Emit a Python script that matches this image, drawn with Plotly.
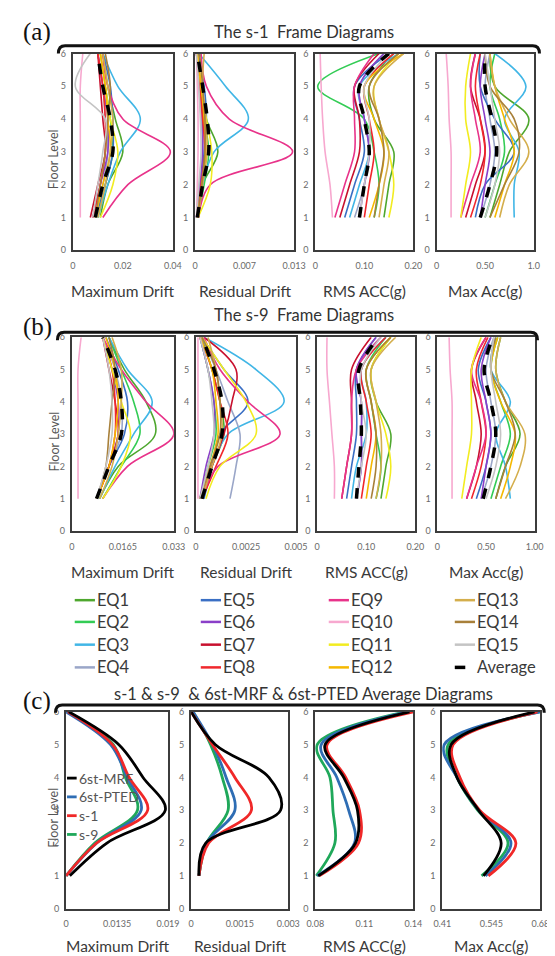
import plotly.graph_objects as go

W, H = 555, 956
FLOORS = [1, 2, 3, 4, 5, 6]

EQ_NAMES = ["EQ1", "EQ2", "EQ3", "EQ4", "EQ5", "EQ6", "EQ7", "EQ8", "EQ9", "EQ10",
            "EQ11", "EQ12", "EQ13", "EQ14", "EQ15", "Average"]
EQ_COLORS = ["#4EA72E", "#33CC55", "#41B6E6", "#9AA6C8", "#3A6FC4", "#8A3FC8", "#C8102E",
             "#F0282D", "#E8338A", "#F7A8CF", "#F2EC20", "#F5B800", "#D4AE4C", "#A8803A",
             "#C4C4C4", "#000000"]

# ---- (a) s-1 frame: one row per EQ1..EQ15, last row = Average; values at floors 1..6
S1_MAX_DRIFT = [
    [0.011, 0.014, 0.020, 0.017, 0.014, 0.012],
    [0.010, 0.013, 0.016, 0.015, 0.013, 0.011],
    [0.010, 0.014, 0.019, 0.027, 0.018, 0.012],
    [0.009, 0.012, 0.014, 0.013, 0.012, 0.010],
    [0.009, 0.013, 0.016, 0.016, 0.015, 0.012],
    [0.008, 0.011, 0.014, 0.014, 0.012, 0.010],
    [0.007, 0.010, 0.013, 0.012, 0.011, 0.010],
    [0.008, 0.011, 0.013, 0.013, 0.012, 0.010],
    [0.012, 0.022, 0.039, 0.020, 0.014, 0.012],
    [0.003, 0.003, 0.003, 0.003, 0.003, 0.004],
    [0.011, 0.016, 0.018, 0.015, 0.013, 0.011],
    [0.009, 0.012, 0.015, 0.014, 0.013, 0.011],
    [0.010, 0.013, 0.015, 0.016, 0.014, 0.012],
    [0.009, 0.011, 0.013, 0.014, 0.015, 0.013],
    [0.008, 0.010, 0.012, 0.013, 0.001, 0.007],
    [0.009, 0.012, 0.016, 0.015, 0.012, 0.010],
]
S1_RES_DRIFT = [
    [0.0005, 0.0010, 0.0030, 0.0015, 0.0008, 0.0003],
    [0.0003, 0.0012, 0.0018, 0.0012, 0.0006, 0.0002],
    [0.0004, 0.0010, 0.0025, 0.0070, 0.0040, 0.0005],
    [0.0002, 0.0006, 0.0010, 0.0008, 0.0005, 0.0002],
    [0.0003, 0.0008, 0.0012, 0.0015, 0.0012, 0.0004],
    [0.0002, 0.0007, 0.0010, 0.0010, 0.0006, 0.0002],
    [0.0003, 0.0009, 0.0014, 0.0011, 0.0007, 0.0003],
    [0.0003, 0.0008, 0.0013, 0.0010, 0.0006, 0.0002],
    [0.0005, 0.0020, 0.0128, 0.0045, 0.0015, 0.0008],
    [0.0002, 0.0003, 0.0004, 0.0004, 0.0003, 0.0002],
    [0.0004, 0.0020, 0.0022, 0.0015, 0.0008, 0.0003],
    [0.0003, 0.0009, 0.0014, 0.0012, 0.0008, 0.0003],
    [0.0004, 0.0010, 0.0016, 0.0014, 0.0010, 0.0012],
    [0.0003, 0.0009, 0.0013, 0.0013, 0.0010, 0.0006],
    [0.0002, 0.0005, 0.0008, 0.0007, 0.0005, 0.0002],
    [0.0003, 0.0010, 0.0018, 0.0016, 0.0010, 0.0003],
]
S1_RMS_ACC = [
    [0.14, 0.15, 0.16, 0.12, 0.11, 0.16],
    [0.12, 0.13, 0.12, 0.10, 0.005, 0.13],
    [0.07, 0.09, 0.11, 0.10, 0.09, 0.17],
    [0.08, 0.10, 0.11, 0.10, 0.09, 0.14],
    [0.06, 0.08, 0.10, 0.09, 0.08, 0.15],
    [0.09, 0.10, 0.11, 0.10, 0.09, 0.14],
    [0.05, 0.07, 0.09, 0.09, 0.08, 0.13],
    [0.10, 0.11, 0.12, 0.11, 0.10, 0.16],
    [0.04, 0.06, 0.08, 0.08, 0.08, 0.12],
    [0.035, 0.030, 0.020, 0.015, 0.012, 0.010],
    [0.15, 0.16, 0.15, 0.13, 0.12, 0.17],
    [0.11, 0.13, 0.14, 0.12, 0.10, 0.18],
    [0.13, 0.14, 0.15, 0.13, 0.12, 0.18],
    [0.12, 0.13, 0.14, 0.13, 0.11, 0.17],
    [0.09, 0.10, 0.11, 0.11, 0.10, 0.15],
    [0.09, 0.10, 0.11, 0.10, 0.09, 0.15],
]
S1_MAX_ACC = [
    [0.55, 0.65, 0.75, 0.95, 0.60, 0.55],
    [0.50, 0.60, 0.70, 0.65, 0.55, 0.60],
    [0.80, 0.80, 0.85, 0.70, 0.92, 0.60],
    [0.45, 0.55, 0.60, 0.55, 0.50, 0.55],
    [0.40, 0.50, 0.80, 0.60, 0.45, 0.45],
    [0.45, 0.50, 0.55, 0.50, 0.45, 0.50],
    [0.30, 0.40, 0.50, 0.45, 0.35, 0.40],
    [0.35, 0.45, 0.50, 0.45, 0.40, 0.45],
    [0.25, 0.35, 0.45, 0.40, 0.35, 0.40],
    [0.15, 0.15, 0.15, 0.13, 0.12, 0.10],
    [0.25, 0.30, 0.35, 0.30, 0.30, 0.35],
    [0.60, 0.70, 0.80, 0.70, 0.60, 0.55],
    [0.65, 0.75, 0.95, 0.75, 0.60, 0.55],
    [0.55, 0.70, 0.85, 0.80, 0.55, 0.50],
    [0.50, 0.60, 0.65, 0.60, 0.55, 0.50],
    [0.45, 0.55, 0.62, 0.57, 0.50, 0.50],
]

# ---- (b) s-9 frame
S9_MAX_DRIFT = [
    [0.009, 0.015, 0.027, 0.024, 0.017, 0.012],
    [0.010, 0.016, 0.022, 0.020, 0.016, 0.012],
    [0.009, 0.014, 0.020, 0.026, 0.018, 0.012],
    [0.008, 0.012, 0.016, 0.016, 0.014, 0.010],
    [0.008, 0.012, 0.017, 0.018, 0.015, 0.011],
    [0.008, 0.012, 0.015, 0.015, 0.013, 0.010],
    [0.008, 0.012, 0.015, 0.014, 0.012, 0.010],
    [0.008, 0.012, 0.014, 0.014, 0.013, 0.010],
    [0.010, 0.018, 0.033, 0.024, 0.016, 0.010],
    [0.002, 0.002, 0.002, 0.002, 0.002, 0.003],
    [0.010, 0.016, 0.019, 0.016, 0.013, 0.010],
    [0.008, 0.012, 0.014, 0.015, 0.014, 0.011],
    [0.009, 0.013, 0.015, 0.016, 0.016, 0.013],
    [0.008, 0.011, 0.012, 0.013, 0.014, 0.012],
    [0.008, 0.011, 0.013, 0.013, 0.012, 0.010],
    [0.008, 0.012, 0.016, 0.016, 0.014, 0.010],
]
S9_RES_DRIFT = [
    [0.0003, 0.0008, 0.0014, 0.0012, 0.0008, 0.0003],
    [0.0002, 0.0006, 0.0010, 0.0009, 0.0006, 0.0002],
    [0.0003, 0.0008, 0.0016, 0.0044, 0.0030, 0.0004],
    [0.0017, 0.0020, 0.0022, 0.0016, 0.0010, 0.0003],
    [0.0004, 0.0008, 0.0012, 0.0026, 0.0014, 0.0003],
    [0.0002, 0.0005, 0.0009, 0.0009, 0.0006, 0.0002],
    [0.0003, 0.0008, 0.0014, 0.0018, 0.0020, 0.0004],
    [0.0003, 0.0010, 0.0016, 0.0012, 0.0008, 0.0002],
    [0.0003, 0.0011, 0.0042, 0.0026, 0.0012, 0.0004],
    [0.0001, 0.0001, 0.0001, 0.0001, 0.0001, 0.0001],
    [0.0005, 0.0012, 0.0030, 0.0025, 0.0014, 0.0003],
    [0.0002, 0.0007, 0.0011, 0.0010, 0.0008, 0.0002],
    [0.0003, 0.0008, 0.0013, 0.0012, 0.0010, 0.0006],
    [0.0002, 0.0007, 0.0012, 0.0012, 0.0010, 0.0003],
    [0.0002, 0.0006, 0.0009, 0.0008, 0.0006, 0.0002],
    [0.0003, 0.0008, 0.0013, 0.0013, 0.0009, 0.0003],
]
S9_RMS_ACC = [
    [0.13, 0.14, 0.15, 0.12, 0.11, 0.15],
    [0.12, 0.13, 0.12, 0.11, 0.10, 0.14],
    [0.07, 0.08, 0.10, 0.10, 0.09, 0.14],
    [0.08, 0.09, 0.09, 0.09, 0.08, 0.13],
    [0.06, 0.07, 0.08, 0.08, 0.08, 0.12],
    [0.08, 0.09, 0.09, 0.09, 0.08, 0.12],
    [0.05, 0.06, 0.07, 0.07, 0.07, 0.11],
    [0.09, 0.10, 0.11, 0.10, 0.09, 0.14],
    [0.05, 0.06, 0.07, 0.07, 0.08, 0.13],
    [0.035, 0.035, 0.030, 0.025, 0.020, 0.020],
    [0.14, 0.15, 0.14, 0.12, 0.11, 0.15],
    [0.10, 0.11, 0.12, 0.11, 0.10, 0.15],
    [0.12, 0.13, 0.13, 0.12, 0.11, 0.16],
    [0.11, 0.12, 0.12, 0.11, 0.10, 0.15],
    [0.08, 0.09, 0.10, 0.09, 0.09, 0.13],
    [0.08, 0.085, 0.09, 0.088, 0.085, 0.125],
]
S9_MAX_ACC = [
    [0.60, 0.70, 0.85, 0.70, 0.60, 0.65],
    [0.55, 0.65, 0.75, 0.65, 0.55, 0.62],
    [0.75, 0.70, 0.60, 0.75, 0.55, 0.60],
    [0.45, 0.55, 0.60, 0.55, 0.50, 0.58],
    [0.40, 0.50, 0.55, 0.50, 0.42, 0.55],
    [0.45, 0.50, 0.55, 0.50, 0.45, 0.55],
    [0.30, 0.40, 0.45, 0.40, 0.35, 0.50],
    [0.35, 0.45, 0.50, 0.45, 0.40, 0.52],
    [0.30, 0.40, 0.50, 0.45, 0.35, 0.50],
    [0.15, 0.15, 0.15, 0.15, 0.13, 0.12],
    [0.25, 0.30, 0.35, 0.35, 0.35, 0.45],
    [0.65, 0.75, 0.80, 0.65, 0.55, 0.62],
    [0.70, 0.85, 0.90, 0.70, 0.60, 0.65],
    [0.60, 0.70, 0.80, 0.70, 0.55, 0.60],
    [0.50, 0.60, 0.65, 0.60, 0.55, 0.58],
    [0.47, 0.55, 0.60, 0.55, 0.48, 0.57],
]

# ---- (c) averages: rows = 6st-MRF, 6st-PTED, s-1, s-9
AVG_NAMES = ["6st-MRF", "6st-PTED", "s-1", "s-9"]
AVG_COLORS = ["#000000", "#2E6DB4", "#F02828", "#1FA85A"]
AVG_MAX_DRIFT = [
    [0.0084, 0.0124, 0.0187, 0.0163, 0.0137, 0.0083],
    [0.0080, 0.0113, 0.0161, 0.0146, 0.0128, 0.0080],
    [0.0080, 0.0113, 0.0168, 0.0148, 0.0130, 0.0082],
    [0.0080, 0.0111, 0.0157, 0.0144, 0.0131, 0.0082],
]
AVG_RES_DRIFT = [
    [0.00024, 0.00045, 0.00276, 0.00240, 0.00075, 0.00000],
    [0.00024, 0.00048, 0.00135, 0.00108, 0.00066, 0.00006],
    [0.00024, 0.00054, 0.00186, 0.00135, 0.00066, 0.00000],
    [0.00024, 0.00048, 0.00114, 0.00096, 0.00060, 0.00006],
]
AVG_RMS_ACC = [
    [0.0818, 0.1046, 0.1058, 0.0974, 0.0860, 0.1376],
    [0.0812, 0.1040, 0.1004, 0.0932, 0.0836, 0.1364],
    [0.0824, 0.1064, 0.1070, 0.0986, 0.0872, 0.1400],
    [0.0806, 0.0920, 0.0908, 0.0890, 0.0812, 0.1352],
]
AVG_MAX_ACC = [
    [0.5234, 0.5720, 0.5099, 0.4505, 0.4343, 0.6638],
    [0.5288, 0.5990, 0.5099, 0.4505, 0.4154, 0.6800],
    [0.5369, 0.6125, 0.5126, 0.4586, 0.4397, 0.6719],
    [0.5180, 0.5909, 0.5072, 0.4505, 0.4262, 0.6773],
]

X_TITLES = ["Maximum Drift", "Residual Drift", "RMS ACC(g)", "Max Acc(g)"]
RANGES_A = [[0, 0.04], [0, 0.013], [0, 0.20], [0, 1.0]]
TICKS_A = [["0", "0.02", "0.04"], ["0", "0.007", "0.013"], ["0", "0.10", "0.20"], ["0", "0.50", "1.0"]]
RANGES_B = [[0, 0.033], [0, 0.005], [0, 0.20], [0, 1.0]]
TICKS_B = [["0", "0.0165", "0.033"], ["0", "0.0025", "0.005"], ["0", "0.10", "0.20"], ["0", "0.50", "1.00"]]
RANGES_C = [[0.008, 0.019], [0, 0.003], [0.08, 0.14], [0.41, 0.68]]
TICKS_C = [["0", "0.0135", "0.019"], ["0", "0.0015", "0.003"], ["0.08", "0.11", "0.14"], ["0.41", "0.545", "0.68"]]
Y_TICKS = [0, 1, 2, 3, 4, 5, 6]

# ---------------- layout geometry (pixels) ----------------
def X(px):
    return px / W

def Y(py):
    return 1 - py / H

ROWS = [
    dict(top=40, bottom=239, xs=[(58, 162), (185, 288), (310, 412), (436, 537)],
         title_y=280, data=[S1_MAX_DRIFT, S1_RES_DRIFT, S1_RMS_ACC, S1_MAX_ACC],
         ranges=RANGES_A, ticks=TICKS_A, kind="eq"),
    dict(top=327, bottom=523, xs=[(57, 163), (186, 290), (312, 414), (437, 538)],
         title_y=564, data=[S9_MAX_DRIFT, S9_RES_DRIFT, S9_RMS_ACC, S9_MAX_ACC],
         ranges=RANGES_B, ticks=TICKS_B, kind="eq"),
    dict(top=706, bottom=905, xs=[(51, 157), (181, 282), (310, 412), (442, 544)],
         title_y=943, data=[AVG_MAX_DRIFT, AVG_RES_DRIFT, AVG_RMS_ACC, AVG_MAX_ACC],
         ranges=RANGES_C, ticks=TICKS_C, kind="avg"),
]

FONT = "Lato, 'Open Sans', sans-serif"
TICK_COLOR = "#6a6a6a"
BOX_COLOR = "#3c3c3c"


def note(text, px, py, size, color="#333333", family=FONT, xanchor="center", angle=0):
    return dict(text=text, x=X(px), y=Y(py), xref="paper", yref="paper", showarrow=False,
                xanchor=xanchor, yanchor="middle", textangle=angle,
                font=dict(size=size, color=color, family=family))


fig = go.Figure()
layout = dict(width=W, height=H, autosize=False, margin=dict(l=0, r=0, t=0, b=0),
              paper_bgcolor="white", plot_bgcolor="white", showlegend=False,
              font=dict(family=FONT, color="#333333"))
annotations = []
shapes = []

k = 0
for ri, row in enumerate(ROWS):
    for ci in range(4):
        k += 1
        xa = "x" if k == 1 else f"x{k}"
        ya = "y" if k == 1 else f"y{k}"
        x0, x1 = row["xs"][ci]
        lo, hi = row["ranges"][ci]
        series = row["data"][ci]
        if row["kind"] == "eq":
            for si, vals in enumerate(series):
                is_avg = si == len(series) - 1
                fig.add_trace(go.Scatter(
                    x=vals, y=FLOORS, mode="lines", xaxis=xa, yaxis=ya,
                    name=EQ_NAMES[si],
                    line=dict(color=EQ_COLORS[si], width=3.5 if is_avg else 1.6,
                              dash="dash" if is_avg else "solid", shape="spline")))
        else:
            for si in [3, 1, 2, 0]:
                fig.add_trace(go.Scatter(
                    x=series[si], y=FLOORS, mode="lines", xaxis=xa, yaxis=ya,
                    name=AVG_NAMES[si],
                    line=dict(color=AVG_COLORS[si], width=2.8, shape="spline")))
        axis_common = dict(showline=True, mirror=True, linecolor=BOX_COLOR, linewidth=2,
                           showgrid=False, zeroline=False, ticks="",
                           tickfont=dict(size=9, color=TICK_COLOR, family=FONT))
        layout["xaxis" if k == 1 else f"xaxis{k}"] = dict(
            axis_common, domain=[X(x0), X(x1)], range=[lo, hi],
            tickvals=[lo, (lo + hi) / 2, hi], ticktext=row["ticks"][ci],
            anchor=ya, ticklabelstandoff=6)
        layout["yaxis" if k == 1 else f"yaxis{k}"] = dict(
            axis_common, domain=[Y(row["bottom"]), Y(row["top"])], range=[0, 6],
            tickvals=Y_TICKS, ticktext=[str(v) for v in Y_TICKS],
            anchor=xa, ticklabelstandoff=3)
        annotations.append(note(X_TITLES[ci], (x0 + x1) / 2, row["title_y"], 15.5, "#3a3a3a"))
    annotations.append(note("Floor Level", 38, (row["top"] + row["bottom"]) / 2 + 8, 12.5,
                            "#555555", angle=-90))

# Row headers
HEADERS = [("(a)", "The s-1  Frame Diagrams", 18, 32, 43, 543, 18),
           ("(b)", "The s-9  Frame Diagrams", 305, 322, 42, 541, 317),
           ("(c)", "s-1 & s-9  & 6st-MRF & 6st-PTED Average Diagrams", 688, 699, 40, 548, 695)]
for lab, title, ty, by, bx0, bx1, ly in HEADERS:
    annotations.append(note(title, 298, ty, 16.5, "#333333"))
    annotations.append(note(lab, 4, ly, 25, "#111111", "Liberation Serif, serif", xanchor="left"))
    d = 8
    path = (f"M {X(bx0)},{Y(by + d)} Q {X(bx0)},{Y(by)} {X(bx0 + 7)},{Y(by)} "
            f"L {X(bx1 - 7)},{Y(by)} Q {X(bx1)},{Y(by)} {X(bx1)},{Y(by + d)}")
    shapes.append(dict(type="path", path=path, xref="paper", yref="paper",
                       line=dict(color="#111111", width=3)))

# EQ legend (4 columns x 4 rows)
LEG_X = [60, 191, 324, 455]
LEG_Y = [593, 615, 638, 661]
for c in range(4):
    for r in range(4):
        idx = c * 4 + r
        lx, ly = LEG_X[c], LEG_Y[r]
        is_avg = idx == 15
        shapes.append(dict(type="line", xref="paper", yref="paper",
                           x0=X(lx), x1=X(lx + 21), y0=Y(ly), y1=Y(ly),
                           line=dict(color=EQ_COLORS[idx], width=3.5 if is_avg else 2.5,
                                     dash="dash" if is_avg else "solid")))
        annotations.append(note(EQ_NAMES[idx], lx + 21, ly, 16.5, "#3a3a3a", xanchor="left"))

# Average-diagram legend inside first (c) panel
C_LEG_Y = [773, 792, 811, 830]
for i, name in enumerate(AVG_NAMES):
    shapes.append(dict(type="line", xref="paper", yref="paper",
                       x0=X(52), x1=X(62), y0=Y(C_LEG_Y[i]), y1=Y(C_LEG_Y[i]),
                       line=dict(color=AVG_COLORS[i], width=2.8)))
    annotations.append(note(name, 62, C_LEG_Y[i], 14, "#555555", xanchor="left"))

layout["annotations"] = annotations
layout["shapes"] = shapes
fig.update_layout(**layout)
fig.write_html("out.html")
